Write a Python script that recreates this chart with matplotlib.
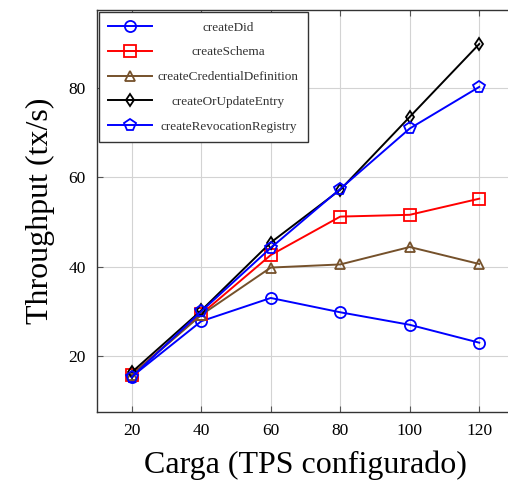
import matplotlib
matplotlib.use('Agg')
from matplotlib import pyplot as plt

plt.rcParams['font.family'] = ['Liberation Serif', 'DejaVu Serif']
plt.rcParams['mathtext.fontset'] = 'stix'

# load levels (configured TPS)
carga = [20, 40, 60, 80, 100, 120]

# throughput per transaction type (tx/s)
create_did = [15.4, 27.8, 33.0, 29.8, 27.0, 23.0]
create_schema = [15.8, 29.4, 42.6, 51.2, 51.6, 55.2]
create_cred_def = [15.8, 29.2, 39.8, 40.5, 44.4, 40.6]
create_or_update = [16.4, 30.2, 45.4, 57.2, 73.5, 89.8]
create_rev_reg = [15.3, 30.0, 44.2, 57.4, 70.9, 80.2]

names = ['createDid', 'createSchema', 'createCredentialDefinition',
         'createOrUpdateEntry', 'createRevocationRegistry']
series = [create_did, create_schema, create_cred_def, create_or_update, create_rev_reg]
colors = ['#0000ff', '#ff0000', '#75512b', '#000000', '#0000ff']
markers = ['o', 's', '^', 'd', 'p']
msizes = [8, 8, 7.5, 6.5, 8.5]

fig = plt.figure(figsize=(5.08, 4.84), dpi=100)
# axes deliberately runs past the right edge (as in the reference crop)
ax = fig.add_axes([97/508, 72/484, 417/508, 402/484])

for name, y, c, m, ms in zip(names, series, colors, markers, msizes):
    ax.plot(carga, y, color=c, marker=m, ms=ms, mfc='none', mec=c,
            mew=1.3, lw=1.4, label=name)

ax.set_xlim(10, 130)
ax.set_ylim(7.5, 97.4)
ax.set_xticks(carga)
ax.set_yticks([20, 40, 60, 80])
ax.grid(True, color='#d3d3d3', lw=0.8)
ax.set_axisbelow(True)
ax.tick_params(direction='in', length=4.5, width=0.8, color='#555',
               labelsize=12.5, top=True, right=True, pad=8)
for s in ax.spines.values():
    s.set_color('#333')
    s.set_linewidth(1.0)

ax.set_xlabel('Carga (TPS configurado)', fontsize=23, labelpad=8)
ax.set_ylabel('Throughput (tx/s)', fontsize=23, labelpad=10)

leg = ax.legend(loc='upper left', fontsize=9.5, frameon=True, fancybox=False,
                edgecolor='#333', framealpha=1, borderaxespad=0.15,
                handlelength=3.3, handletextpad=0.45, labelspacing=0.95,
                borderpad=0.72)
leg.get_frame().set_linewidth(1.0)
for t in leg.get_texts():
    t.set_color('#333')

# center the legend entries like pgfplots does
fig.canvas.draw()
r = fig.canvas.get_renderer()
texts = leg.get_texts()
widths = [t.get_window_extent(r).width for t in texts]
wmax = max(widths)
for t, w in zip(texts, widths):
    t.set_position(((wmax - w) / 2, 0))

fig.savefig('out.png', dpi=100)
